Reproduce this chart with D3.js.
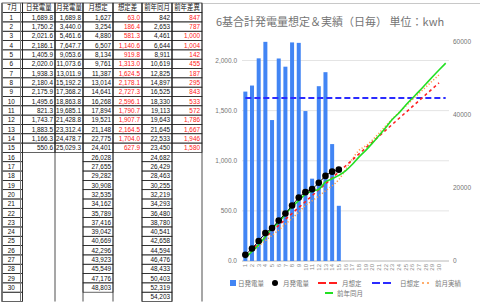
<!DOCTYPE html>
<html>
<head>
<meta charset="utf-8">
<script src="https://cdn.jsdelivr.net/npm/d3@7"></script>
<style>
body { margin: 0; background: #fff; }
svg { display: block; }
text { font-family: "Liberation Sans", Arial, "Noto Sans CJK JP", sans-serif; }
.cjk { font-family: "Noto Sans CJK JP", sans-serif; }
</style>
</head>
<body>
<svg width="480" height="304"></svg>
<script>
// Data (July)
const dayLabels = ["1","2","3","4","5","6","7","8","9","10","11","12","13","14","15",
    "16","17","18","19","20","21","22","23","24","25","26","27","28","29","30",""];
const daily = [1689.8, 1750.2, 2021.6, 2186.1, 1405.9, 2020.0, 1938.3, 2180.4, 2175.9, 1495.6,
    821.3, 1743.7, 1883.5, 1166.3, 550.6];
const monthly = [1689.8, 3440.0, 5461.6, 7647.7, 9053.6, 11073.6, 13011.9, 15192.2, 17368.2, 18863.8,
    19685.1, 21428.8, 23312.4, 24478.7, 25029.3];
const monthTarget = [1627, 3254, 4880, 6507, 8134, 9761, 11387, 13014, 14641, 16268,
    17894, 19521, 21148, 22775, 24401, 26028, 27655, 29282, 30908, 32535,
    34162, 35789, 37416, 39042, 40669, 42296, 43923, 45549, 47176, 48803];
const targetDiff = [63.0, 186.4, 581.3, 1140.6, 919.8, 1313.0, 1624.5, 2178.1, 2727.3, 2596.1,
    1790.7, 1907.7, 2164.5, 1704.0, 627.9];
const lastYear = [842, 2653, 4461, 6644, 8911, 10619, 12825, 14897, 16525, 18330,
    19113, 19643, 21645, 22533, 23450, 24682, 26429, 28463, 30255, 32219,
    34293, 36480, 38780, 40541, 42658, 44594, 46476, 48433, 50403, 52319, 54203];
const lastYearDiff = [847, 787, 1000, 1004, 142, 455, 187, 295, 843, 533,
    572, 1786, 1667, 1946, 1580];
// previous month cumulative, estimated from the chart
const prevMonth = [1250, 2600, 4100, 5600, 7000, 8500, 10100, 11700, 13400, 15200,
    16500, 17800, 19200, 20600, 22300, 25000, 27900, 30300, 31500, 33100,
    35000, 37000, 38900, 40700, 42400, 44200, 45900, 47600, 49300, 51000];
const dailyTarget = [1627, 1627, 1627, 1627, 1627, 1627, 1627, 1627, 1627, 1627,
    1627, 1627, 1627, 1627, 1627, 1627, 1627, 1627, 1627, 1627,
    1627, 1627, 1627, 1627, 1627, 1627, 1627, 1627, 1627, 1627, 1627];
const headers = ["7月", "日発電量", "月発電量", "月想定", "想定差", "前年同月", "前年差異"];
const leftTicks = [0, 500, 1000, 1500, 2000];
const rightTicks = [0, 20000, 40000, 60000];

const svg = d3.select("svg");
const fmt1 = d3.format(",.1f");
const fmt0 = d3.format(",");

// ---------- table ----------
const colEdges = [2, 22.5, 55, 83, 113, 142, 172, 202];
const headTop = 3, bodyTop = 12.6, rowH = 9.32;
const rowTop = i => bodyTop + i * rowH;
const sx = 0.8; // narrow sheet font

const rows = d3.range(31).map(i => [
    dayLabels[i],
    daily[i] != null ? fmt1(daily[i]) : "",
    monthly[i] != null ? fmt1(monthly[i]) : "",
    monthTarget[i] != null ? fmt0(monthTarget[i]) : "",
    targetDiff[i] != null ? fmt1(targetDiff[i]) : "",
    lastYear[i] != null ? fmt0(lastYear[i]) : "",
    lastYearDiff[i] != null ? fmt0(lastYearDiff[i]) : ""
]);

const table = svg.append("g").attr("class", "table");

// cell borders only where the cell is used
rows.forEach((row, i) => {
    row.forEach((v, c) => {
        if (v === "" && c !== 0) return;
        table.append("rect")
            .attr("x", colEdges[c]).attr("y", rowTop(i))
            .attr("width", colEdges[c + 1] - colEdges[c]).attr("height", rowH)
            .attr("fill", "none").attr("stroke", "#222").attr("stroke-width", 0.7);
    });
});
headers.forEach((h, c) => {
    table.append("rect")
        .attr("x", colEdges[c]).attr("y", headTop)
        .attr("width", colEdges[c + 1] - colEdges[c]).attr("height", bodyTop - headTop)
        .attr("fill", "none").attr("stroke", "#222").attr("stroke-width", 0.7);
});
// column lines, full height
colEdges.forEach(xe => {
    table.append("line")
        .attr("x1", xe).attr("x2", xe)
        .attr("y1", headTop).attr("y2", rowTop(31))
        .attr("stroke", "#222").attr("stroke-width", 0.8);
});
// double line after first column
table.append("line")
    .attr("x1", 20.5).attr("x2", 20.5).attr("y1", headTop).attr("y2", rowTop(31))
    .attr("stroke", "#777").attr("stroke-width", 1);
table.append("line")
    .attr("x1", colEdges[0]).attr("x2", colEdges[0]).attr("y1", headTop).attr("y2", rowTop(31))
    .attr("stroke", "#777").attr("stroke-width", 1.6);

headers.forEach((h, c) => {
    const cx = (colEdges[c] + colEdges[c + 1]) / 2;
    table.append("text")
        .attr("class", "cjk")
        .attr("transform", `translate(${cx},${headTop + 7.2}) scale(${sx},1)`)
        .attr("text-anchor", "middle")
        .attr("font-size", 8)
        .attr("fill", "#111")
        .text(h);
});
rows.forEach((row, i) => {
    row.forEach((v, c) => {
        if (v === "") return;
        const xx = c === 0 ? (colEdges[0] + 20.5) / 2 : colEdges[c + 1] - 2;
        table.append("text")
            .attr("transform", `translate(${xx},${rowTop(i) + 7.2}) scale(${sx},1)`)
            .attr("text-anchor", c === 0 ? "middle" : "end")
            .attr("font-size", 8)
            .attr("fill", (c === 4 || c === 6) ? "#ff2020" : "#111")
            .text(v);
    });
});

// ---------- chart ----------
svg.append("line")
    .attr("x1", 203).attr("x2", 480).attr("y1", 3.5).attr("y2", 3.5)
    .attr("stroke", "#c8c8c8");

svg.append("text")
    .attr("class", "cjk")
    .attr("x", 216).attr("y", 26)
    .attr("font-size", 11)
    .attr("fill", "#757575")
    .text("6基合計発電量想定＆実績（日毎） 単位：kwh");

const x = d3.scaleBand()
    .domain(d3.range(dayLabels.length))
    .range([242, 449])
    .paddingInner(0.4)
    .paddingOuter(0.2);
const cx = i => x(i) + x.bandwidth() / 2;
const yL = d3.scaleLinear().domain([0, 2000]).range([261, 60.5]);
const yR = d3.scaleLinear().domain([0, 60000]).range([261, 42]);

const plot = svg.append("g");

// gridlines
plot.selectAll(".grid")
    .data(leftTicks)
    .enter()
    .append("line")
    .attr("x1", 242).attr("x2", 449)
    .attr("y1", d => yL(d)).attr("y2", d => yL(d))
    .attr("stroke", d => d === 0 ? "#b8b8b8" : "#e4e4e4")
    .attr("stroke-width", 1);

// left axis labels
plot.selectAll(".ly")
    .data(leftTicks)
    .enter()
    .append("text")
    .attr("x", 237).attr("y", d => yL(d) + 2.3)
    .attr("text-anchor", "end")
    .attr("font-size", 6.5)
    .attr("fill", "#757575")
    .text(d => fmt1(d));

// right axis labels
plot.selectAll(".ry")
    .data(rightTicks)
    .enter()
    .append("text")
    .attr("x", 453).attr("y", d => yR(d) + 2.3)
    .attr("font-size", 6.5)
    .attr("fill", "#757575")
    .text(d => d);

// x labels
plot.selectAll(".xl")
    .data(dayLabels)
    .enter()
    .append("text")
    .attr("transform", (d, i) => `translate(${cx(i)},264) rotate(-90)`)
    .attr("dy", "0.35em")
    .attr("text-anchor", "end")
    .attr("font-size", 6)
    .attr("fill", "#8a8a8a")
    .text(d => d);

// bars
plot.selectAll(".bar")
    .data(daily)
    .enter()
    .append("rect")
    .attr("x", (d, i) => x(i))
    .attr("y", d => yL(d))
    .attr("width", x.bandwidth())
    .attr("height", d => yL(0) - yL(d))
    .attr("fill", "#4285f4");

// daily target line
plot.append("path")
    .datum(dailyTarget)
    .attr("fill", "none")
    .attr("stroke", "#2b2bff")
    .attr("stroke-width", 2)
    .attr("stroke-dasharray", "6,3")
    .attr("d", d3.line().x((d, i) => cx(i)).y(d => yL(d)));

const lineR = d3.line().x((d, i) => cx(i)).y(d => yR(d)).curve(d3.curveMonotoneX);

// previous month
plot.append("path")
    .datum(prevMonth)
    .attr("fill", "none")
    .attr("stroke", "#ff9a4a")
    .attr("stroke-width", 1.5)
    .attr("stroke-dasharray", "1.2,2")
    .attr("d", lineR);

// month target
plot.append("path")
    .datum(monthTarget)
    .attr("fill", "none")
    .attr("stroke", "#ff1e1e")
    .attr("stroke-width", 1.6)
    .attr("stroke-dasharray", "3,3")
    .attr("d", lineR);

// last year
plot.append("path")
    .datum(lastYear)
    .attr("fill", "none")
    .attr("stroke", "#22e022")
    .attr("stroke-width", 1.6)
    .attr("d", lineR);

// monthly actual
plot.append("path")
    .datum(monthly)
    .attr("fill", "none")
    .attr("stroke", "#000")
    .attr("stroke-width", 1)
    .attr("d", lineR);
plot.selectAll(".dot")
    .data(monthly)
    .enter()
    .append("circle")
    .attr("cx", (d, i) => cx(i))
    .attr("cy", d => yR(d))
    .attr("r", 3.3)
    .attr("fill", "#000");

// ---------- legend ----------
const lg = svg.append("g").attr("font-size", 6.5).attr("fill", "#757575");
lg.append("rect").attr("x", 230).attr("y", 280).attr("width", 6).attr("height", 6).attr("fill", "#4285f4");
lg.append("text").attr("class", "cjk").attr("x", 238).attr("y", 285.5).text("日発電量");
lg.append("circle").attr("cx", 275).attr("cy", 283).attr("r", 3).attr("fill", "#000");
lg.append("text").attr("class", "cjk").attr("x", 283).attr("y", 285.5).text("月発電量");
lg.append("line").attr("x1", 318).attr("x2", 337).attr("y1", 283).attr("y2", 283)
    .attr("stroke", "#ff1e1e").attr("stroke-width", 2).attr("stroke-dasharray", "8,3");
lg.append("text").attr("class", "cjk").attr("x", 342).attr("y", 285.5).text("月想定");
lg.append("line").attr("x1", 372).attr("x2", 392).attr("y1", 283).attr("y2", 283)
    .attr("stroke", "#2b2bff").attr("stroke-width", 2).attr("stroke-dasharray", "8,3");
lg.append("text").attr("class", "cjk").attr("x", 400).attr("y", 285.5).text("日想定");
lg.append("circle").attr("cx", 423).attr("cy", 283).attr("r", 1.1).attr("fill", "#ff9a4a");
lg.append("circle").attr("cx", 428).attr("cy", 283).attr("r", 1.1).attr("fill", "#ff9a4a");
lg.append("text").attr("class", "cjk").attr("x", 435).attr("y", 285.5).text("前月実績");
lg.append("line").attr("x1", 325).attr("x2", 333).attr("y1", 293).attr("y2", 293)
    .attr("stroke", "#22e022").attr("stroke-width", 2);
lg.append("text").attr("class", "cjk").attr("x", 337).attr("y", 295.5).text("前年同月");
</script>
</body>
</html>
